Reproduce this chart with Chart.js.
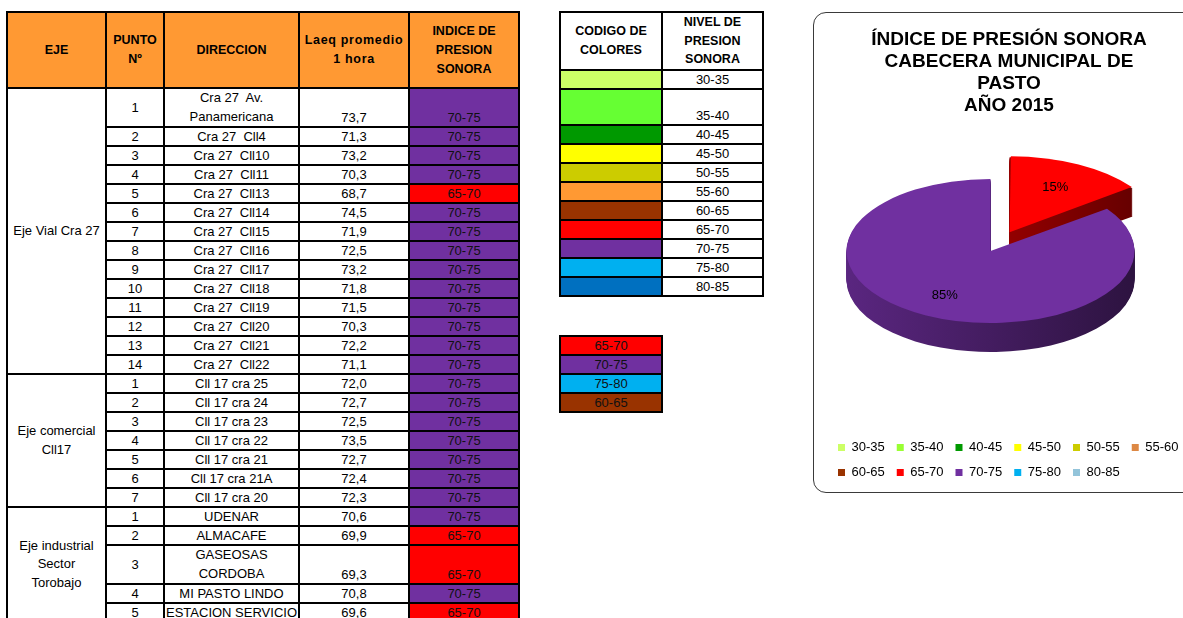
<!DOCTYPE html>
<html lang="es">
<head>
<meta charset="utf-8">
<title>Índice de presión sonora - Pasto 2015</title>
<script src="https://cdn.jsdelivr.net/npm/chart.js@4.4.1/dist/chart.umd.min.js"></script>
<style>
  html, body { margin: 0; padding: 0; background: #fff; overflow: hidden; }
  body { width: 1183px; height: 618px; position: relative; font-family: 'Liberation Sans', Arial, sans-serif; color: #000; }
  table { position: absolute; border-collapse: collapse; table-layout: fixed; font-size: 13px; }
  td, th { border: 2px solid #000; padding: 0; text-align: center; vertical-align: middle; box-sizing: border-box; line-height: 17px; overflow: hidden; white-space: pre; }
  th { background: #ff9933; font-weight: bold; font-size: 12.5px; line-height: 19px; }
  th.ancho { letter-spacing: 0.7px; }
  td.doble { line-height: 18.5px; }
  td.abajo { vertical-align: bottom; }
  td.nivel { color: #111; }
  td.cab { font-weight: bold; font-size: 12.5px; line-height: 18.5px; }
  #tabla { left: 6px; top: 11px; }
  #codigo { left: 559px; top: 11px; }
  #resumen { left: 559px; top: 335px; }
  #resumen td { color: #111; }
  #caja { position: absolute; left: 813px; top: 12px; width: 392px; height: 481px; box-sizing: border-box; border: 1.5px solid #3a3a3a; border-radius: 13px; background: #fff; }
  #caja canvas { display: block; }
</style>
</head>
<body>
<table id="tabla">
  <colgroup><col style="width:99px"><col style="width:58px"><col style="width:135px"><col style="width:110px"><col style="width:110px"></colgroup>
  <thead><tr style="height:76px"><th>EJE</th><th>PUNTO
Nº</th><th>DIRECCION</th><th class="ancho">Laeq promedio
1 hora</th><th>INDICE DE
PRESION
SONORA</th></tr></thead>
  <tbody></tbody>
</table>

<table id="codigo">
  <colgroup><col style="width:102px"><col style="width:101px"></colgroup>
  <tr style="height:57px"><td class="cab">CODIGO DE
COLORES</td><td class="cab">NIVEL DE
PRESION
SONORA</td></tr>
</table>

<table id="resumen">
  <colgroup><col style="width:102px"></colgroup>
</table>

<div id="caja"><canvas id="torta" width="389" height="478"></canvas></div>

<script>
// Datos de la tabla de monitoreo
var ejeNombres = ['Eje Vial Cra 27', 'Eje comercial\nCll17', 'Eje industrial\nSector\nTorobajo'];
var ejeFilas = [14, 7, 5];
var puntos = [1, 2, 3, 4, 5, 6, 7, 8, 9, 10, 11, 12, 13, 14,
              1, 2, 3, 4, 5, 6, 7,
              1, 2, 3, 4, 5];
var direcciones = ['Cra 27  Av.\nPanamericana', 'Cra 27  Cll4', 'Cra 27  Cll10', 'Cra 27  Cll11', 'Cra 27  Cll13',
                   'Cra 27  Cll14', 'Cra 27  Cll15', 'Cra 27  Cll16', 'Cra 27  Cll17', 'Cra 27  Cll18',
                   'Cra 27  Cll19', 'Cra 27  Cll20', 'Cra 27  Cll21', 'Cra 27  Cll22',
                   'Cll 17 cra 25', 'Cll 17 cra 24', 'Cll 17 cra 23', 'Cll 17 cra 22', 'Cll 17 cra 21',
                   'Cll 17 cra 21A', 'Cll 17 cra 20',
                   'UDENAR', 'ALMACAFE', 'GASEOSAS\nCORDOBA', 'MI PASTO LINDO', 'ESTACION SERVICIO'];
var laeq = [73.7, 71.3, 73.2, 70.3, 68.7, 74.5, 71.9, 72.5, 73.2, 71.8, 71.5, 70.3, 72.2, 71.1,
            72.0, 72.7, 72.5, 73.5, 72.7, 72.4, 72.3,
            70.6, 69.9, 69.3, 70.8, 69.6];
var indices = ['70-75', '70-75', '70-75', '70-75', '65-70', '70-75', '70-75', '70-75', '70-75', '70-75',
               '70-75', '70-75', '70-75', '70-75',
               '70-75', '70-75', '70-75', '70-75', '70-75', '70-75', '70-75',
               '70-75', '65-70', '65-70', '70-75', '65-70'];

// Codigo de colores
var codigoNiveles = ['30-35', '35-40', '40-45', '45-50', '50-55', '55-60', '60-65', '65-70', '70-75', '75-80', '80-85'];
var codigoColores = ['#ccff66', '#66ff33', '#009900', '#ffff00', '#cccc00', '#ff9933', '#993300', '#ff0000', '#7030a0', '#00b0f0', '#0070c0'];
var codigoAlturas = [19, 38, 19, 19, 19, 19, 19, 19, 19, 19, 19];
var resumenNiveles = ['65-70', '70-75', '75-80', '60-65'];

// Grafico de torta
var tortaTitulo = ['ÍNDICE DE PRESIÓN SONORA', 'CABECERA MUNICIPAL DE', 'PASTO', 'AÑO 2015'];
var tortaNiveles = ['30-35', '35-40', '40-45', '45-50', '50-55', '55-60', '60-65', '65-70', '70-75', '75-80', '80-85'];
var tortaPorcentajes = [0, 0, 0, 0, 0, 0, 0, 15, 85, 0, 0];
var tortaColores = ['#ccff66', '#99ff33', '#009900', '#ffff00', '#cccc00', '#dd8844', '#993300', '#ff0000', '#7030a0', '#00b0f0', '#93c4da'];

function colorDe(nivel) {
    return codigoColores[codigoNiveles.indexOf(nivel)];
}

function celda(tr, texto, clase) {
    var td = document.createElement('td');
    td.textContent = texto;
    if (clase) td.className = clase;
    tr.appendChild(td);
    return td;
}

// Tabla principal
var cuerpo = document.querySelector('#tabla tbody');
var k = 0;
ejeNombres.forEach(function (eje, g) {
    for (var j = 0; j < ejeFilas[g]; j++, k++) {
        var tr = document.createElement('tr');
        var doble = direcciones[k].indexOf('\n') >= 0;
        // la altura incluye el borde de 2px
        tr.style.height = (doble ? 37 : 17) + 'px';
        if (j === 0) {
            var tdEje = celda(tr, eje, 'doble');
            tdEje.rowSpan = ejeFilas[g];
        }
        celda(tr, String(puntos[k]));
        celda(tr, direcciones[k], doble ? 'doble' : '');
        celda(tr, laeq[k].toFixed(1).replace('.', ','), doble ? 'abajo' : '');
        var tdIndice = celda(tr, indices[k], 'nivel' + (doble ? ' abajo' : ''));
        tdIndice.style.background = colorDe(indices[k]);
        cuerpo.appendChild(tr);
    }
});

// Tabla de codigo de colores
var codigo = document.getElementById('codigo');
codigoNiveles.forEach(function (nivel, i) {
    var tr = document.createElement('tr');
    tr.style.height = (codigoAlturas[i] - 2) + 'px';
    var c = celda(tr, '');
    c.style.background = codigoColores[i];
    celda(tr, nivel, codigoAlturas[i] > 19 ? 'abajo' : '');
    codigo.appendChild(tr);
});

// Tabla resumen
var resumen = document.getElementById('resumen');
resumenNiveles.forEach(function (nivel) {
    var tr = document.createElement('tr');
    tr.style.height = '17px';
    var c = celda(tr, nivel);
    c.style.background = colorDe(nivel);
    resumen.appendChild(tr);
});

// Oscurece un color hex
function oscurecer(hex, f) {
    var n = parseInt(hex.slice(1), 16);
    var r = Math.round(((n >> 16) & 255) * f);
    var g = Math.round(((n >> 8) & 255) * f);
    var b = Math.round((n & 255) * f);
    return 'rgb(' + r + ',' + g + ',' + b + ')';
}

// Plugin: torta en perspectiva (elipse + pared lateral) y etiquetas de porcentaje
var torta3d = {
    id: 'torta3d',
    beforeDatasetsDraw: function (chart, args, opts) {
        var ctx = chart.ctx;
        var arcs = chart.getDatasetMeta(0).data;
        var cx = arcs[0].x, cy = arcs[0].y, r = arcs[0].outerRadius;
        ctx.save();
        ctx.translate(cx + opts.shiftX, cy + opts.shiftY);
        ctx.scale(1, opts.tilt);
        ctx.translate(-cx, -cy);
        for (var s = opts.depth; s >= 1; s--) {
            arcs.forEach(function (arc) {
                if (!arc.circumference) return;
                var mid = (arc.startAngle + arc.endAngle) / 2;
                var t = (arc.options.offset || 0) / 4;
                var fix = 1 - Math.sin(Math.min(Math.PI, arc.circumference));
                var rr = arc.outerRadius + t * fix;
                var x = arc.x + Math.cos(mid) * t;
                var y = arc.y + Math.sin(mid) * t + s / opts.tilt;
                var grad = ctx.createLinearGradient(cx - r, 0, cx + r, 0);
                grad.addColorStop(0, oscurecer(arc.options.backgroundColor, 0.8));
                grad.addColorStop(1, oscurecer(arc.options.backgroundColor, 0.4));
                ctx.fillStyle = grad;
                ctx.beginPath();
                ctx.moveTo(x, y);
                ctx.arc(x, y, rr, arc.startAngle, arc.endAngle);
                ctx.closePath();
                ctx.fill();
            });
        }
    },
    afterDatasetsDraw: function (chart, args, opts) {
        var ctx = chart.ctx;
        ctx.restore();
        var arcs = chart.getDatasetMeta(0).data;
        var valores = chart.data.datasets[0].data;
        var total = valores.reduce(function (a, b) { return a + b; }, 0);
        ctx.save();
        ctx.fillStyle = '#000';
        ctx.font = '13px "Liberation Sans", Arial, sans-serif';
        ctx.textAlign = 'center';
        ctx.textBaseline = 'middle';
        arcs.forEach(function (arc, i) {
            if (!valores[i]) return;
            var mid = (arc.startAngle + arc.endAngle) / 2;
            var d = (arc.options.offset || 0) / 4 + 0.7 * arc.outerRadius;
            var lx = arc.x + Math.cos(mid) * d + opts.shiftX;
            var ly = arc.y + opts.shiftY + Math.sin(mid) * d * opts.tilt;
            ctx.fillText(Math.round(valores[i] / total * 100) + '%', lx, ly);
        });
        ctx.restore();
    }
};

var fuente = "'Liberation Sans', Arial, sans-serif";

new Chart(document.getElementById('torta'), {
    type: 'pie',
    data: {
        labels: tortaNiveles,
        datasets: [{
            data: tortaPorcentajes,
            backgroundColor: tortaColores,
            borderWidth: 0,
            radius: 144,
            offset: function (c) { return tortaNiveles[c.dataIndex] === '65-70' ? 168 : 0; }
        }]
    },
    options: {
        responsive: false,
        animation: false,
        events: [],
        layout: { padding: { left: 12, right: 11, top: 0, bottom: 2 } },
        plugins: {
            title: {
                display: true,
                text: tortaTitulo,
                color: '#000',
                font: { family: fuente, size: 19, weight: 'bold', lineHeight: '22px' },
                padding: { top: 16, bottom: 0 }
            },
            legend: {
                position: 'bottom',
                align: 'start',
                labels: {
                    boxWidth: 7,
                    boxHeight: 7,
                    padding: 12,
                    color: '#000',
                    font: { family: fuente, size: 13 }
                }
            },
            tooltip: { enabled: false },
            torta3d: { depth: 29, tilt: 0.5, shiftX: -18.5, shiftY: -22 }
        }
    },
    plugins: [torta3d]
});
</script>
</body>
</html>
